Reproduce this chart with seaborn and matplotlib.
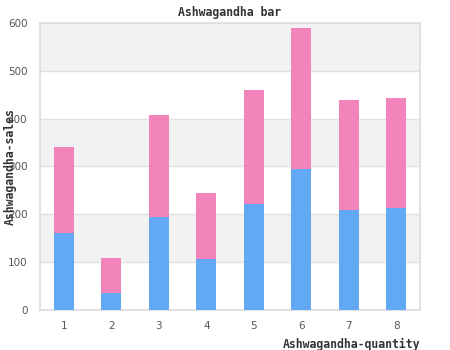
import matplotlib
matplotlib.use("Agg")
import matplotlib.pyplot as plt
import seaborn as sns
import pandas as pd

categories = ["1", "2", "3", "4", "5", "6", "7", "8"]
base_sales = [160, 35, 195, 107, 222, 294, 210, 214]
extra_sales = [181, 74, 213, 138, 238, 296, 228, 229]
y_ticks = [0, 100, 200, 300, 400, 500, 600]

sns.set_theme(style="white")
plt.rcParams["font.family"] = ["DejaVu Sans"]

df = pd.DataFrame({
    "quantity": categories,
    "base": base_sales,
    "total": [b + e for b, e in zip(base_sales, extra_sales)],
})

fig = plt.figure(figsize=(4.5, 3.5), dpi=100)
ax = fig.add_axes([40 / 450, 40 / 350, 380 / 450, 287 / 350])

# alternating horizontal bands
for i, lo in enumerate(y_ticks[:-1]):
    if i % 2 == 1:
        ax.axhspan(lo, y_ticks[i + 1], color="#f2f2f2", zorder=0, lw=0)

sns.barplot(data=df, x="quantity", y="total", color="#f283bb", width=0.42,
            saturation=1, ax=ax, zorder=2, linewidth=0)
sns.barplot(data=df, x="quantity", y="base", color="#62a8f3", width=0.42,
            saturation=1, ax=ax, zorder=3, linewidth=0)

ax.set_ylim(0, 600)
ax.set_xlim(-0.5, 7.5)
ax.set_yticks(y_ticks)
ax.yaxis.grid(True, color="#e0e0e0", lw=1)
ax.set_axisbelow(True)
for s in ax.spines.values():
    s.set_color("#dddddd")
    s.set_linewidth(1.2)

ax.tick_params(axis="both", length=0, labelsize=7.5, colors="#555555", pad=8)
ax.tick_params(axis="y", pad=9)
ax.set_xlabel("")
ax.set_ylabel("")

mono = {"family": "DejaVu Sans Mono", "size": 8.3, "weight": "bold", "color": "#333333"}
ax.set_title("Ashwagandha bar", fontdict=mono, pad=5)
fig.text(420 / 450, 6 / 350, "Ashwagandha-quantity", ha="right", va="center", **mono)
fig.text(10 / 450, 1 - 167 / 350, "Ashwagandha-sales", ha="center", va="center",
         rotation=90, **mono)

fig.savefig("out.png", dpi=100)
